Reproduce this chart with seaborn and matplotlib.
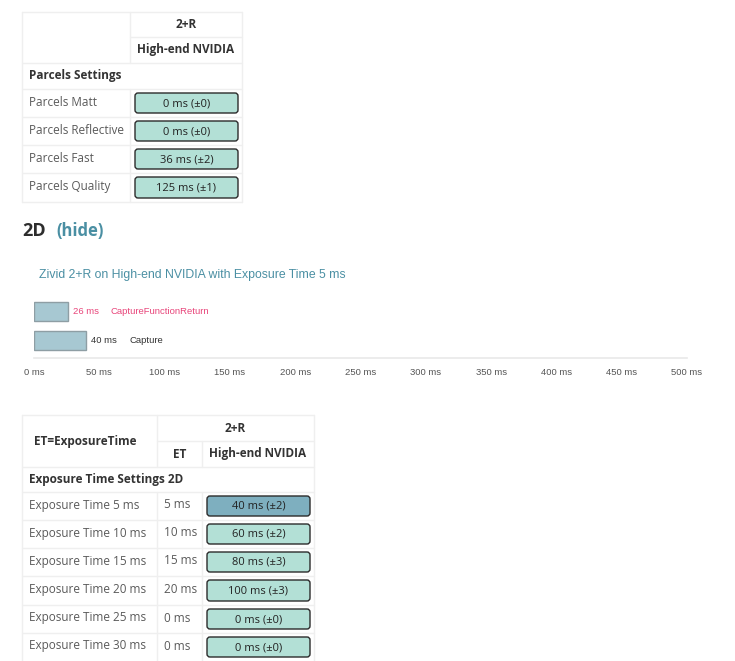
import matplotlib
matplotlib.use("Agg")
import matplotlib.pyplot as plt
from matplotlib.patches import FancyBboxPatch
import seaborn as sns

# table 1: parcels
parcel_labels = ["Parcels Matt", "Parcels Reflective", "Parcels Fast", "Parcels Quality"]
parcel_ms = [0, 0, 36, 125]
parcel_err = [0, 0, 2, 1]

# 2D timing chart
stage_names = ["CaptureFunctionReturn", "Capture"]
stage_ms = [26, 40]
tick_values = [0, 50, 100, 150, 200, 250, 300, 350, 400, 450, 500]

# table 2: exposure times
et_labels = ["Exposure Time 5 ms", "Exposure Time 10 ms", "Exposure Time 15 ms",
             "Exposure Time 20 ms", "Exposure Time 25 ms", "Exposure Time 30 ms"]
et_values = ["5 ms", "10 ms", "15 ms", "20 ms", "0 ms", "0 ms"]
et_ms = [40, 60, 80, 100, 0, 0]
et_err = [2, 2, 3, 3, 0, 0]

sns.set_theme(style="white")
plt.rcParams['font.family'] = ['Open Sans', 'DejaVu Sans']

W, H = 735, 661
fig = plt.figure(figsize=(W / 100, H / 100), dpi=100)
cv = fig.add_axes([0, 0, 1, 1])
cv.set_xlim(0, W)
cv.set_ylim(H, 0)
cv.axis("off")

LINE = "#efefef"
LABEL = "#5a5a5a"
HEAD = "#333333"
CELL = "#b3e0d6"
CELL_HI = "#7eafbf"
FS = 8.5
FS_CELL = 8.0
ARIAL = ["Liberation Sans", "DejaVu Sans"]


def hline(y, x0, x1):
    cv.plot([x0, x1], [y, y], color=LINE, lw=1)


def vline(x, y0, y1):
    cv.plot([x, x], [y0, y1], color=LINE, lw=1)


def cell(x0, x1, y0, y1, text, face):
    box = FancyBboxPatch((x0, y0), x1 - x0, y1 - y0,
                         boxstyle="round,pad=0,rounding_size=3",
                         fc=face, ec="#2b2b2b", lw=1)
    cv.add_patch(box)
    cv.text((x0 + x1) / 2, (y0 + y1) / 2 + 0.5, text, ha="center", va="center",
            fontsize=FS_CELL, color="#222222")


# ---- table 1
rows1 = [89, 117, 145, 173, 202]
for y in [12, 63, 89] + rows1[1:]:
    hline(y, 22, 242)
hline(37, 130, 242)
vline(22, 12, 202)
vline(242, 12, 202)
vline(130, 12, 63)
vline(130, 89, 202)
cv.text(186, 25, "2+R", ha="center", va="center", fontsize=FS, weight="bold", color=HEAD)
cv.text(186, 50, "High-end NVIDIA", ha="center", va="center", fontsize=FS, weight="bold", color=HEAD)
cv.text(29, 76, "Parcels Settings", ha="left", va="center", fontsize=FS, weight="bold", color=HEAD)
for i, lab in enumerate(parcel_labels):
    y0, y1 = rows1[i], rows1[i + 1]
    cv.text(29, (y0 + y1) / 2 - 1, lab, ha="left", va="center", fontsize=FS, color=LABEL)
    cell(135, 238, y0 + 4, y1 - 4, f"{parcel_ms[i]} ms (±{parcel_err[i]})", CELL)

# ---- 2D heading
cv.text(22, 231, "2D", ha="left", va="center", fontsize=13, weight="bold", color="#2d2d2d")
cv.text(56, 231, "(hide)", ha="left", va="center", fontsize=12, weight="bold", color="#4a8fa3")

cv.text(39, 275, "Zivid 2+R on High-end NVIDIA with Exposure Time 5 ms", ha="left", va="center",
        fontsize=8.8, color="#4a8fa3", family=ARIAL)

# ---- bar chart
ax = fig.add_axes([34 / W, (H - 358) / H, 653 / W, 64 / H])
sns.barplot(x=stage_ms, y=stage_names, orient="h", color="#a7c8d2", saturation=1,
            width=0.655, edgecolor="#8e9ea4", linewidth=1, ax=ax)
ax.set_xlim(0, 500)
ax.set_ylim(1.603, -0.6)
ax.set_xticks(tick_values)
ax.set_xticklabels([f"{v} ms" for v in tick_values], fontsize=6.8, color="#555555", family=ARIAL)
ax.set_yticks([])
ax.tick_params(axis="x", length=0, pad=7)
for s in ["top", "left", "right"]:
    ax.spines[s].set_visible(False)
ax.spines["bottom"].set_color("#eaeaea")
ax.set_xlabel("")
ax.set_ylabel("")
ax.patch.set_alpha(0)
label_colors = ["#e8457a", "#333333"]
for i, (nm, v) in enumerate(zip(stage_names, stage_ms)):
    ax.annotate(f"{v} ms", (v, i), xytext=(5, 0), textcoords="offset pixels",
                va="center", ha="left", fontsize=6.8, color=label_colors[i], family=ARIAL)
    ax.annotate(nm, (v, i), xytext=(43, 0), textcoords="offset pixels",
                va="center", ha="left", fontsize=6.8, color=label_colors[i], family=ARIAL)

# ---- table 2
rows2 = [492, 520, 548, 576, 605, 633, 661]
for y in [415, 467] + rows2[:-1]:
    hline(y, 22, 314)
hline(441, 157, 314)
vline(22, 415, 661)
vline(314, 415, 661)
vline(157, 415, 467)
vline(157, 492, 661)
vline(202, 441, 467)
vline(202, 492, 661)
cv.text(235, 428, "2+R", ha="center", va="center", fontsize=FS, weight="bold", color=HEAD)
cv.text(85, 441, "ET=ExposureTime", ha="center", va="center", fontsize=FS, weight="bold", color=HEAD)
cv.text(180, 454, "ET", ha="center", va="center", fontsize=FS, weight="bold", color=HEAD)
cv.text(258, 454, "High-end NVIDIA", ha="center", va="center", fontsize=FS, weight="bold", color=HEAD)
cv.text(29, 480, "Exposure Time Settings 2D", ha="left", va="center", fontsize=FS, weight="bold", color=HEAD)
for i, lab in enumerate(et_labels):
    y0, y1 = rows2[i], rows2[i + 1]
    cv.text(29, (y0 + y1) / 2 - 1, lab, ha="left", va="center", fontsize=FS, color=LABEL)
    cv.text(164, (y0 + y1) / 2 - 1, et_values[i], ha="left", va="center", fontsize=FS, color=LABEL)
    face = CELL_HI if i == 0 else CELL
    cell(207, 310, y0 + 4, y1 - 4, f"{et_ms[i]} ms (±{et_err[i]})", face)

fig.savefig("out.png", dpi=100)
